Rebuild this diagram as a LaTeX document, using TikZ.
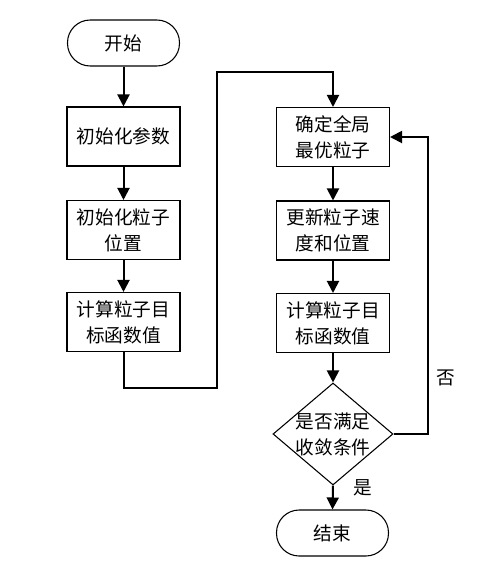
\documentclass[tikz,border=0pt]{standalone}
\usepackage{fontspec}
\newfontfamily\cjk{Noto Sans CJK SC}
\usetikzlibrary{shapes.geometric, arrows.meta}

\begin{document}
\begin{tikzpicture}[x=0.75pt, y=-0.75pt,
  every node/.style={font=\cjk\fontsize{14}{19.5}\selectfont},
  proc/.style={draw, line width=.8pt, minimum width=84.75pt, minimum height=44.25pt, align=center, inner sep=0pt},
  term/.style={draw, line width=.8pt, rounded corners=17pt, minimum width=84pt, minimum height=34.5pt, inner sep=0pt},
  decision/.style={diamond, draw, line width=.8pt, minimum width=90pt, minimum height=76.5pt, inner sep=0pt},
  flow/.style={line width=1.5pt, -{Triangle[length=9pt,width=9pt]}}]

\useasboundingbox (0,0) rectangle (496,579);

% left column
\node [term] (start) at (123.5,43) {开始};
\node [proc] (init) at (123.5,136.5) {初始化参数};
\node [proc] (pos) at (123.5,230) {初始化粒子\\位置};
\node [proc] (eval) at (123.5,322) {计算粒子目\\标函数值};

% right column
\node [proc] (best) at (333,137) {确定全局\\最优粒子};
\node [proc] (update) at (333,230.5) {更新粒子速\\度和位置};
\node [proc] (evalb) at (333,323) {计算粒子目\\标函数值};
\node [decision, label={[align=center]center:是否满足\\收敛条件}] (conv) at (333,434) {};
\node [term] (stop) at (332.5,533) {结束};

\node (no) at (446,378) {否};
\node (yes) at (363,488) {是};

\coordinate (turn) at (217,72);

\draw [flow] (start) -- (init);
\draw [flow] (init) -- (pos);
\draw [flow] (pos) -- (eval);
\draw [flow] (eval.south) -- ++(0,36) -| (turn) -| (best.north);
\draw [flow] (best) -- (update);
\draw [flow] (update) -- (evalb);
\draw [flow] (evalb) -- (conv);
\draw [flow] (conv.east) -- ++(34,0) |- (best.east);
\draw [flow] (conv.south) -- (stop.north);

\end{tikzpicture}
\end{document}
